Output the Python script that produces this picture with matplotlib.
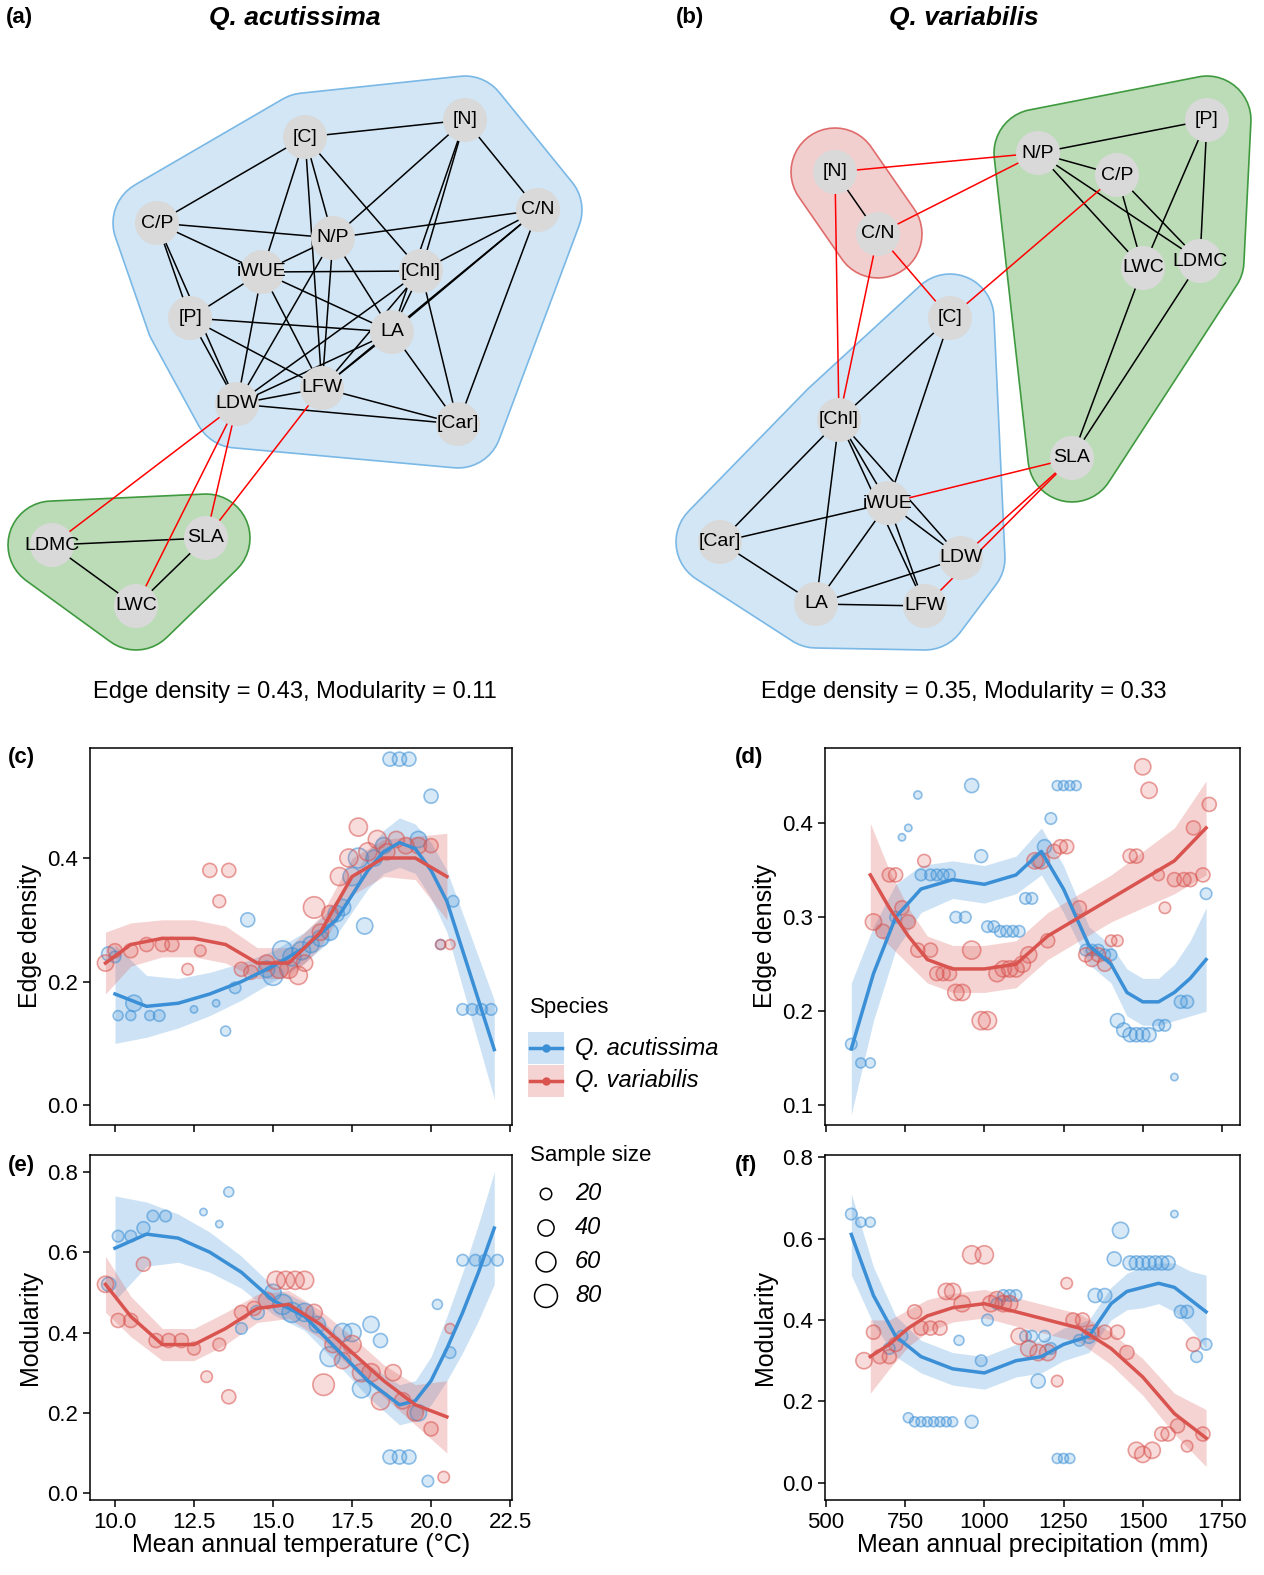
import matplotlib.pyplot as plt
from matplotlib.patches import Circle, Polygon
from matplotlib.colors import to_rgba
import numpy as np

plt.rcParams['font.family'] = ['Liberation Sans', 'DejaVu Sans']

W, H = 1264, 1575
BLUE, RED = '#3a8fd6', '#d9534f'

# ---------------- network data (node positions in panel pixels) ----------------
nodes_a = {'[C]': (305, 137), '[N]': (465, 120), 'C/N': (538, 210), 'C/P': (157, 223),
           'N/P': (333, 238), 'iWUE': (262, 272), '[Chl]': (421, 271), '[P]': (190, 318),
           'LA': (392, 332), 'LDW': (237, 404), 'LFW': (322, 388), '[Car]': (458, 424),
           'LDMC': (52, 545), 'SLA': (206, 538), 'LWC': (136, 606)}
modules_a = [(['[C]', '[N]', 'C/N', 'C/P', 'N/P', 'iWUE', '[Chl]', '[P]', 'LA', 'LDW', 'LFW', '[Car]'], 'blue'),
             (['LDMC', 'SLA', 'LWC'], 'green')]
edges_a = [('[C]', '[N]'), ('[C]', 'C/P'), ('[C]', 'iWUE'), ('[C]', 'N/P'), ('[C]', '[Chl]'),
           ('[C]', 'LFW'), ('[N]', 'C/N'), ('[N]', 'N/P'), ('[N]', '[Chl]'), ('[N]', 'LA'),
           ('C/N', 'N/P'), ('C/N', '[Chl]'), ('C/N', 'LA'), ('C/N', 'LFW'), ('C/N', '[Car]'),
           ('C/P', 'N/P'), ('C/P', 'iWUE'), ('C/P', '[P]'), ('C/P', 'LDW'), ('N/P', 'iWUE'),
           ('N/P', 'LA'), ('N/P', 'LFW'), ('N/P', 'LDW'), ('iWUE', '[Chl]'), ('iWUE', '[P]'),
           ('iWUE', 'LA'), ('iWUE', 'LDW'), ('iWUE', 'LFW'), ('[Chl]', 'LA'), ('[Chl]', 'LFW'),
           ('[Chl]', 'LDW'), ('[Chl]', '[Car]'), ('[P]', 'LA'), ('[P]', 'LDW'), ('[P]', 'LFW'),
           ('LA', 'LDW'), ('LA', 'LFW'), ('LA', '[Car]'), ('LDW', 'LFW'), ('LDW', '[Car]'),
           ('LFW', '[Car]'), ('LDMC', 'SLA'), ('LDMC', 'LWC'), ('SLA', 'LWC')]
red_a = [('LDW', 'LDMC'), ('LDW', 'SLA'), ('LDW', 'LWC'), ('LFW', 'SLA')]

nodes_b = {'[N]': (835, 172), 'C/N': (878, 234), 'N/P': (1038, 153), 'C/P': (1117, 175),
           '[P]': (1207, 120), 'LWC': (1143, 268), 'LDMC': (1200, 261), '[C]': (950, 318),
           '[Chl]': (839, 420), 'SLA': (1072, 458), 'iWUE': (888, 503), '[Car]': (720, 542),
           'LDW': (961, 558), 'LA': (816, 604), 'LFW': (925, 606)}
modules_b = [(['[N]', 'C/N'], 'red'),
             (['N/P', 'C/P', '[P]', 'LWC', 'LDMC', 'SLA'], 'green'),
             (['[C]', '[Chl]', 'iWUE', '[Car]', 'LDW', 'LA', 'LFW'], 'blue')]
edges_b = [('[N]', 'C/N'), ('N/P', 'C/P'), ('N/P', '[P]'), ('N/P', 'LWC'), ('N/P', 'LDMC'),
           ('C/P', 'LWC'), ('C/P', 'LDMC'), ('[P]', 'LWC'), ('[P]', 'LDMC'), ('LWC', 'SLA'),
           ('LDMC', 'SLA'), ('[C]', '[Chl]'), ('[C]', 'iWUE'), ('[Chl]', '[Car]'), ('[Chl]', 'iWUE'),
           ('[Chl]', 'LA'), ('[Chl]', 'LDW'), ('[Chl]', 'LFW'), ('iWUE', '[Car]'), ('iWUE', 'LA'),
           ('iWUE', 'LDW'), ('iWUE', 'LFW'), ('LA', 'LDW'), ('LA', 'LFW'), ('[Car]', 'LA')]
red_b = [('[N]', 'N/P'), ('C/N', 'N/P'), ('[N]', '[Chl]'), ('C/N', '[Chl]'), ('C/N', '[C]'),
         ('[C]', 'C/P'), ('iWUE', 'SLA'), ('LDW', 'SLA'), ('LFW', 'SLA')]

hull_style = {'blue': ('#d2e6f5', '#7ab8e6'), 'green': ('#bcdcb8', '#3f9a3f'),
              'red': ('#f2cfcf', '#e06b6b')}

# ---------------- panel c/e data: temperature ----------------
temp_blue_pts = [(9.8, .245, 30), (10.0, .24, 20), (10.1, .145, 15), (10.5, .145, 15), (10.6, .165, 40),
                 (11.1, .145, 15), (11.4, .145, 20), (12.5, .155, 8), (13.2, .165, 8), (13.5, .12, 15),
                 (13.8, .19, 20), (14.2, .30, 30), (14.8, .22, 40), (15.0, .21, 60), (15.3, .25, 60),
                 (15.6, .24, 50), (15.9, .25, 50), (16.2, .26, 40), (16.5, .27, 40), (16.8, .28, 40),
                 (17.0, .31, 40), (17.2, .32, 40), (17.5, .37, 50), (17.7, .40, 60), (17.9, .29, 40),
                 (18.2, .40, 40), (18.5, .42, 40), (18.7, .56, 30), (19.0, .56, 30), (19.3, .56, 30),
                 (19.6, .43, 40), (20.0, .50, 30), (20.3, .26, 15), (20.7, .33, 20), (21.0, .155, 20),
                 (21.3, .155, 20), (21.6, .155, 20), (21.9, .155, 20)]
temp_red_pts = [(9.7, .23, 40), (10.0, .25, 30), (10.5, .25, 30), (11.0, .26, 30), (11.5, .26, 30),
                (11.8, .26, 30), (12.3, .22, 20), (12.7, .25, 20), (13.0, .38, 30), (13.3, .33, 25),
                (13.6, .38, 30), (14.0, .22, 30), (14.3, .215, 30), (14.8, .23, 40), (15.2, .22, 50),
                (15.5, .22, 50), (15.8, .21, 50), (16.0, .23, 40), (16.3, .32, 70), (16.5, .28, 40),
                (16.8, .31, 40), (17.1, .37, 50), (17.4, .40, 50), (17.7, .45, 50), (18.0, .41, 50),
                (18.3, .43, 50), (18.6, .41, 40), (18.9, .43, 40), (19.2, .42, 40), (19.6, .42, 40),
                (20.0, .42, 30), (20.3, .26, 15), (20.6, .26, 15)]
temp_blue_x = [10, 11, 12, 13, 14, 15, 16, 17, 18, 18.5, 19, 19.5, 20, 20.5, 21, 21.5, 22]
ed_blue_y = [.18, .16, .165, .18, .20, .225, .255, .30, .38, .41, .425, .415, .38, .33, .25, .17, .09]
ed_blue_w = [.08, .05, .04, .035, .03, .025, .025, .025, .03, .035, .04, .04, .045, .05, .06, .07, .08]
temp_red_x = [9.7, 10.5, 11.5, 12.5, 13.5, 14.5, 15.5, 16.5, 17.5, 18.5, 19.5, 20.5]
ed_red_y = [.23, .26, .27, .27, .26, .23, .23, .28, .37, .40, .40, .37]
ed_red_w = [.05, .035, .03, .03, .03, .025, .025, .025, .03, .03, .035, .07]

mod_blue_pts = [(9.8, .52, 30), (10.1, .64, 20), (10.5, .64, 20), (10.9, .66, 25), (11.2, .69, 20),
                (11.6, .69, 20), (12.8, .70, 8), (13.3, .67, 8), (13.6, .75, 15), (14.0, .41, 20),
                (14.5, .45, 30), (15.0, .50, 40), (15.3, .47, 60), (15.6, .45, 60), (16.0, .45, 50),
                (16.4, .42, 40), (16.8, .34, 60), (17.2, .40, 50), (17.5, .40, 50), (17.8, .26, 50),
                (18.1, .42, 40), (18.4, .38, 30), (18.7, .09, 30), (19.0, .09, 30), (19.3, .09, 30),
                (19.6, .20, 40), (19.9, .03, 20), (20.2, .47, 15), (20.6, .35, 20), (21.0, .58, 20),
                (21.4, .58, 20), (21.7, .58, 20), (22.1, .58, 20)]
mod_red_pts = [(9.7, .52, 40), (10.1, .43, 30), (10.5, .43, 30), (10.9, .57, 30), (11.3, .38, 30),
               (11.7, .38, 30), (12.1, .38, 30), (12.5, .36, 25), (12.9, .29, 20), (13.3, .37, 25),
               (13.6, .24, 30), (14.0, .45, 30), (14.4, .46, 30), (14.8, .48, 40), (15.1, .53, 50),
               (15.4, .53, 50), (15.7, .53, 50), (16.0, .53, 50), (16.3, .45, 40), (16.6, .27, 70),
               (16.9, .37, 40), (17.2, .33, 40), (17.5, .37, 50), (17.8, .30, 50), (18.1, .30, 50),
               (18.4, .23, 50), (18.8, .30, 40), (19.1, .23, 40), (19.5, .20, 40), (20.0, .16, 30),
               (20.4, .04, 20), (20.6, .41, 15)]
mod_blue_y = [.61, .645, .635, .60, .55, .48, .44, .36, .28, .25, .22, .23, .28, .36, .45, .55, .66]
mod_blue_w = [.13, .08, .06, .05, .04, .035, .035, .035, .04, .045, .05, .05, .06, .08, .1, .12, .14]
mod_red_y = [.52, .44, .37, .37, .41, .46, .47, .42, .35, .28, .22, .19]
mod_red_w = [.07, .05, .04, .04, .04, .035, .035, .035, .04, .04, .05, .09]

# ---------------- panel d/f data: precipitation ----------------
prec_blue_pts = [(580, .165, 20), (610, .145, 15), (640, .145, 15), (720, .30, 20), (740, .385, 8),
                 (760, .395, 8), (790, .43, 10), (800, .345, 20), (830, .345, 20), (850, .345, 20),
                 (870, .345, 20), (890, .345, 20), (910, .30, 20), (940, .30, 20), (960, .44, 30),
                 (990, .365, 25), (1010, .29, 20), (1030, .29, 20), (1050, .285, 20), (1070, .285, 20),
                 (1090, .285, 20), (1110, .285, 20), (1130, .32, 20), (1150, .32, 20), (1170, .36, 30),
                 (1190, .375, 30), (1210, .405, 20), (1230, .44, 15), (1250, .44, 15), (1270, .44, 15),
                 (1290, .44, 15), (1320, .265, 20), (1340, .265, 20), (1360, .265, 20), (1380, .26, 20),
                 (1400, .26, 20), (1420, .19, 30), (1440, .18, 30), (1460, .175, 30), (1480, .175, 30),
                 (1500, .175, 30), (1520, .175, 30), (1550, .185, 20), (1570, .185, 20), (1600, .13, 8),
                 (1620, .21, 25), (1640, .21, 25), (1700, .325, 20)]
prec_red_pts = [(650, .295, 40), (680, .285, 30), (700, .345, 30), (720, .345, 30), (740, .31, 30),
                (760, .295, 30), (790, .265, 30), (810, .36, 25), (830, .265, 30), (850, .24, 30),
                (870, .24, 30), (890, .24, 30), (910, .22, 40), (930, .22, 40), (960, .265, 50),
                (990, .19, 50), (1010, .19, 50), (1040, .24, 40), (1060, .245, 40), (1080, .245, 40),
                (1100, .245, 40), (1120, .25, 40), (1140, .26, 40), (1160, .36, 40), (1180, .36, 40),
                (1200, .275, 30), (1220, .37, 30), (1240, .375, 30), (1260, .375, 30), (1300, .31, 30),
                (1320, .26, 30), (1340, .255, 30), (1360, .26, 30), (1380, .25, 30), (1400, .275, 20),
                (1420, .275, 20), (1460, .365, 30), (1480, .365, 30), (1500, .46, 40), (1520, .435, 40),
                (1550, .345, 20), (1570, .31, 20), (1600, .34, 30), (1630, .34, 30), (1650, .34, 30),
                (1660, .395, 30), (1690, .345, 30), (1710, .42, 30)]
prec_blue_x = [580, 650, 720, 800, 900, 1000, 1100, 1180, 1250, 1330, 1400, 1450, 1500, 1550, 1600, 1650, 1700]
ed2_blue_y = [.16, .24, .30, .33, .34, .335, .345, .37, .33, .27, .25, .22, .21, .21, .22, .235, .255]
ed2_blue_w = [.07, .05, .035, .025, .02, .02, .02, .025, .025, .02, .02, .025, .025, .025, .03, .04, .055]
prec_red_x = [640, 700, 760, 820, 900, 1000, 1100, 1200, 1300, 1400, 1500, 1600, 1700]
ed2_red_y = [.345, .31, .28, .255, .245, .245, .25, .28, .30, .32, .34, .36, .395]
ed2_red_w = [.055, .04, .03, .025, .025, .025, .025, .025, .025, .025, .03, .035, .05]

mod2_blue_pts = [(580, .66, 20), (610, .64, 15), (640, .64, 15), (700, .33, 20), (740, .36, 20),
                 (760, .16, 15), (780, .15, 15), (800, .15, 15), (820, .15, 15), (840, .15, 15),
                 (860, .15, 15), (880, .15, 15), (900, .15, 15), (920, .35, 15), (960, .15, 25),
                 (990, .30, 20), (1010, .40, 20), (1040, .44, 20), (1060, .46, 20), (1080, .46, 20),
                 (1100, .46, 20), (1130, .36, 20), (1150, .36, 20), (1170, .25, 30), (1190, .36, 20),
                 (1210, .33, 20), (1230, .06, 15), (1250, .06, 15), (1270, .06, 15), (1300, .35, 20),
                 (1330, .36, 30), (1350, .46, 30), (1380, .46, 30), (1410, .55, 30), (1430, .62, 40),
                 (1460, .54, 30), (1480, .54, 30), (1500, .54, 30), (1520, .54, 30), (1540, .54, 30),
                 (1560, .54, 30), (1580, .54, 30), (1600, .66, 8), (1620, .42, 25), (1640, .42, 25),
                 (1670, .31, 20), (1700, .34, 20)]
mod2_red_pts = [(620, .30, 40), (650, .37, 30), (670, .31, 30), (700, .31, 30), (720, .34, 30),
                (780, .42, 30), (800, .38, 30), (830, .38, 30), (860, .38, 30), (880, .47, 40),
                (900, .47, 40), (930, .44, 40), (960, .56, 50), (1000, .56, 50), (1020, .44, 40),
                (1040, .45, 40), (1060, .44, 40), (1080, .44, 40), (1110, .36, 40), (1140, .33, 40),
                (1170, .32, 40), (1200, .32, 40), (1230, .25, 20), (1260, .49, 20), (1280, .40, 30),
                (1310, .40, 30), (1340, .37, 30), (1380, .37, 30), (1420, .37, 30), (1450, .32, 30),
                (1480, .08, 40), (1500, .07, 40), (1530, .08, 40), (1560, .12, 30), (1580, .12, 30),
                (1610, .14, 30), (1640, .09, 20), (1660, .34, 30), (1690, .12, 30)]
mod2_blue_y = [.61, .46, .36, .31, .28, .27, .30, .31, .34, .36, .44, .47, .48, .49, .48, .45, .42]
mod2_blue_w = [.1, .07, .05, .04, .04, .04, .04, .04, .04, .04, .04, .045, .05, .05, .06, .07, .09]
mod2_red_y = [.31, .34, .38, .41, .43, .44, .42, .40, .38, .33, .26, .17, .11]
mod2_red_w = [.09, .06, .045, .04, .035, .035, .035, .035, .035, .04, .045, .05, .07]


def hull(pts):
    pts = sorted(set(pts))

    def cross(o, a, b):
        return (a[0] - o[0]) * (b[1] - o[1]) - (a[1] - o[1]) * (b[0] - o[0])
    lower, upper = [], []
    for p in pts:
        while len(lower) >= 2 and cross(lower[-2], lower[-1], p) <= 0:
            lower.pop()
        lower.append(p)
    for p in reversed(pts):
        while len(upper) >= 2 and cross(upper[-2], upper[-1], p) <= 0:
            upper.pop()
        upper.append(p)
    return lower[:-1] + upper[:-1]


def draw_network(ax, nodes, modules, edges, reds, x0, title, tag, stats, tag_x, cx):
    ax.set_xlim(x0, x0 + W / 2)
    ax.set_ylim(700, 0)
    ax.axis('off')
    pad = 44
    ang = np.linspace(0, 2 * np.pi, 48, endpoint=False)
    for names, col in modules:
        pts = []
        for n in names:
            x, y = nodes[n]
            pts += [(x + pad * np.cos(a), y + pad * np.sin(a)) for a in ang]
        fc, ec = hull_style[col]
        ax.add_patch(Polygon(hull(pts), closed=True, fc=fc, ec=ec, lw=1.2, zorder=1))
    for u, v in edges:
        ax.plot([nodes[u][0], nodes[v][0]], [nodes[u][1], nodes[v][1]], color='black', lw=1.1, zorder=2)
    for u, v in reds:
        ax.plot([nodes[u][0], nodes[v][0]], [nodes[u][1], nodes[v][1]], color='red', lw=1.1, zorder=2)
    for n, (x, y) in nodes.items():
        ax.add_patch(Circle((x, y), 22, fc='#d9d9d9', ec='none', zorder=3))
        ax.text(x, y, n, ha='center', va='center', fontsize=14, zorder=4)
    ax.text(tag_x, 18, tag, fontsize=16, fontweight='bold', va='center')
    ax.text(cx, 18, title, fontsize=19, fontweight='bold', style='italic', ha='center', va='center')
    ax.text(cx, 692, stats, fontsize=17, ha='center', va='center')


def px_axes(fig, l, t, r, b):
    return fig.add_axes([l / W, 1 - b / H, (r - l) / W, (b - t) / H])


def scatter_panel(ax, bpts, rpts, bx, by, bw, rx, ry, rw):
    for pts, col in ((bpts, BLUE), (rpts, RED)):
        x = [p[0] for p in pts]
        y = [p[1] for p in pts]
        s = [p[2] * 3.4 for p in pts]
        ax.scatter(x, y, s=s, fc=to_rgba(col, 0.2), ec=to_rgba(col, 0.55), lw=1.2, zorder=2)
    for x, y, w, col in ((bx, by, bw, BLUE), (rx, ry, rw, RED)):
        y, w = np.array(y), np.array(w)
        ax.fill_between(x, y - w, y + w, color=col, alpha=0.25, lw=0, zorder=1)
        ax.plot(x, y, color=col, lw=2.5, zorder=3)
    for sp in ax.spines.values():
        sp.set_linewidth(1.1)
    ax.tick_params(labelsize=16, length=5, width=1.1)


fig = plt.figure(figsize=(W / 100, H / 100), dpi=100)

ax_a = fig.add_axes([0, 1 - 700 / H, 0.5, 700 / H])
draw_network(ax_a, nodes_a, modules_a, edges_a, red_a, 0, 'Q. acutissima', '(a)',
             'Edge density = 0.43, Modularity = 0.11', 6, 295)
ax_b = fig.add_axes([0.5, 1 - 700 / H, 0.5, 700 / H])
draw_network(ax_b, nodes_b, modules_b, edges_b, red_b, W / 2, 'Q. variabilis', '(b)',
             'Edge density = 0.35, Modularity = 0.33', 676, 964)

ax_c = px_axes(fig, 90, 748, 512, 1125)
scatter_panel(ax_c, temp_blue_pts, temp_red_pts, temp_blue_x, ed_blue_y, ed_blue_w,
              temp_red_x, ed_red_y, ed_red_w)
ax_c.set_xlim(9.21, 22.56)
ax_c.set_ylim(-0.032, 0.578)
ax_c.set_yticks([0, .2, .4])
ax_c.set_xticks([10, 12.5, 15, 17.5, 20, 22.5])
ax_c.set_xticklabels([])
ax_c.set_ylabel('Edge density', fontsize=18)

ax_e = px_axes(fig, 90, 1155, 512, 1500)
scatter_panel(ax_e, mod_blue_pts, mod_red_pts, temp_blue_x, mod_blue_y, mod_blue_w,
              temp_red_x, mod_red_y, mod_red_w)
ax_e.set_xlim(9.21, 22.56)
ax_e.set_ylim(-0.017, 0.842)
ax_e.set_yticks([0, .2, .4, .6, .8])
ax_e.set_xticks([10, 12.5, 15, 17.5, 20, 22.5])
ax_e.set_ylabel('Modularity', fontsize=18)
ax_e.set_xlabel('Mean annual temperature (°C)', fontsize=18, labelpad=0)

ax_d = px_axes(fig, 825, 748, 1240, 1125)
scatter_panel(ax_d, prec_blue_pts, prec_red_pts, prec_blue_x, ed2_blue_y, ed2_blue_w,
              prec_red_x, ed2_red_y, ed2_red_w)
ax_d.set_xlim(497, 1807)
ax_d.set_ylim(0.079, 0.48)
ax_d.set_yticks([.1, .2, .3, .4])
ax_d.set_xticks([500, 750, 1000, 1250, 1500, 1750])
ax_d.set_xticklabels([])
ax_d.set_ylabel('Edge density', fontsize=18)

ax_f = px_axes(fig, 825, 1155, 1240, 1500)
scatter_panel(ax_f, mod2_blue_pts, mod2_red_pts, prec_blue_x, mod2_blue_y, mod2_blue_w,
              prec_red_x, mod2_red_y, mod2_red_w)
ax_f.set_xlim(497, 1807)
ax_f.set_ylim(-0.042, 0.805)
ax_f.set_yticks([0, .2, .4, .6, .8])
ax_f.set_xticks([500, 750, 1000, 1250, 1500, 1750])
ax_f.set_ylabel('Modularity', fontsize=18)
ax_f.set_xlabel('Mean annual precipitation (mm)', fontsize=18, labelpad=0)

for tag, x, y in (('(c)', 8, 757), ('(d)', 735, 757), ('(e)', 8, 1165), ('(f)', 735, 1165)):
    fig.text(x / W, 1 - y / H, tag, fontsize=16, fontweight='bold', va='center')

# legend area drawn in pixel coordinates
lg = fig.add_axes([0, 0, 1, 1], facecolor='none')
lg.set_xlim(0, W)
lg.set_ylim(H, 0)
lg.axis('off')
lg.text(530, 1008, 'Species', fontsize=16, va='center')
for yy, col, name in ((1048, BLUE, 'Q. acutissima'), (1081, RED, 'Q. variabilis')):
    lg.add_patch(plt.Rectangle((528, yy - 16), 36, 32, fc=col, alpha=0.25, ec='none'))
    lg.plot([530, 562], [yy, yy], color=col, lw=2.5)
    lg.plot([546], [yy], 'o', color=col, ms=5)
    lg.text(575, yy, name, fontsize=17, style='italic', va='center')
lg.text(530, 1156, 'Sample size', fontsize=16, va='center')
for yy, n in ((1194, 20), (1228, 40), (1262, 60), (1296, 80)):
    lg.scatter([546], [yy], s=n * 3.4, fc='none', ec='black', lw=1.1)
    lg.text(575, yy, str(n), fontsize=17, style='italic', va='center')

fig.savefig('out.png', dpi=100)
